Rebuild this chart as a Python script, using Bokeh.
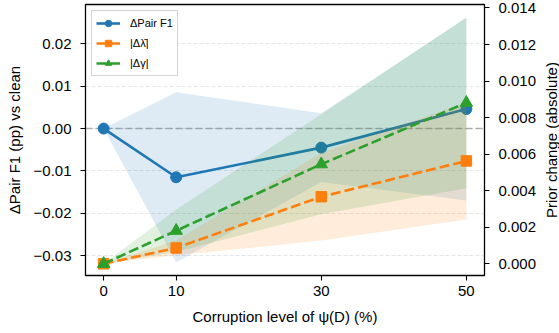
from bokeh.plotting import figure
from bokeh.layouts import row
from bokeh.models import (Range1d, LinearAxis, FixedTicker, CustomJSTickFormatter,
                          Span, ColumnDataSource, Title)
from bokeh.embed import file_html
from bokeh.resources import INLINE

# ---- data ----
corruption = [0, 10, 30, 50]
pair_f1 = [0.0, -0.0115, -0.0045, 0.0046]
pair_f1_std = [0.0, 0.0201, 0.0081, 0.0216]
lam = [0.0, 0.00087, 0.00367, 0.00563]
lam_std = [0.0, 0.0004, 0.0024, 0.0032]
gam = [0.0, 0.00181, 0.00545, 0.00881]
gam_std = [0.0, 0.00116, 0.00274, 0.00467]

left_ticks = [-0.03, -0.02, -0.01, 0.0, 0.01, 0.02]
right_ticks = [0.0, 0.002, 0.004, 0.006, 0.008, 0.010, 0.012, 0.014]

X_LO, X_HI = -2.5, 52.5
L_LO, L_HI = -0.0347, 0.0293
R_LO, R_HI = -0.00064, 0.01419

BLUE, ORANGE, GREEN = "#1f77b4", "#ff7f0e", "#2ca02c"
FONT = "Liberation Sans"

src = ColumnDataSource(dict(
    x=corruption,
    f1=pair_f1,
    f1_lo=[m - s for m, s in zip(pair_f1, pair_f1_std)],
    f1_hi=[m + s for m, s in zip(pair_f1, pair_f1_std)],
    lam=lam,
    lam_lo=[m - s for m, s in zip(lam, lam_std)],
    lam_hi=[m + s for m, s in zip(lam, lam_std)],
    gam=gam,
    gam_lo=[m - s for m, s in zip(gam, gam_std)],
    gam_hi=[m + s for m, s in zip(gam, gam_std)],
))

p = figure(width=541, height=333, output_backend="svg", toolbar_location=None,
           x_range=Range1d(X_LO, X_HI), y_range=Range1d(L_LO, L_HI),
           min_border_left=85, min_border_right=57, min_border_top=4,
           min_border_bottom=58)
p.extra_y_ranges = {"prior": Range1d(R_LO, R_HI)}

p.outline_line_color = "black"
p.outline_line_width = 1.3
p.xgrid.visible = False
p.ygrid.ticker = FixedTicker(ticks=left_ticks)
p.ygrid.grid_line_color = "#b0b0b0"
p.ygrid.grid_line_alpha = 0.4
p.ygrid.grid_line_dash = "4 2"
p.ygrid.grid_line_width = 0.8

# ---- left-axis series ----
p.varea(x="x", y1="f1_lo", y2="f1_hi", source=src, fill_color=BLUE, fill_alpha=0.15)
p.add_layout(Span(location=0, dimension="width", line_color="gray", line_alpha=0.6,
                  line_dash="7 3", line_width=1.4, level="underlay"))
p.line(x="x", y="f1", source=src, line_color=BLUE, line_width=2.6, legend_label="ΔPair F1")
p.scatter(x="x", y="f1", source=src, marker="circle", size=11, fill_color=BLUE,
          line_color=BLUE, legend_label="ΔPair F1")

# ---- right-axis series ----
p.varea(x="x", y1="lam_lo", y2="lam_hi", source=src, fill_color=ORANGE, fill_alpha=0.15,
        y_range_name="prior")
p.varea(x="x", y1="gam_lo", y2="gam_hi", source=src, fill_color=GREEN, fill_alpha=0.15,
        y_range_name="prior")
p.line(x="x", y="lam", source=src, line_color=ORANGE, line_width=2.6, line_dash="10 4",
       y_range_name="prior", legend_label="|Δλ̄|")
p.scatter(x="x", y="lam", source=src, marker="square", size=10.5, fill_color=ORANGE,
          line_color=ORANGE, y_range_name="prior", legend_label="|Δλ̄|")
p.line(x="x", y="gam", source=src, line_color=GREEN, line_width=2.6, line_dash="10 4",
       y_range_name="prior", legend_label="|Δγ|")
p.scatter(x="x", y="gam", source=src, marker="triangle", size=12.5, fill_color=GREEN,
          line_color=GREEN, y_range_name="prior", legend_label="|Δγ|")

# ---- axes ----
right = LinearAxis(y_range_name="prior")
p.add_layout(right, "right")

def style_axis(ax, standoff, label_standoff):
    ax.axis_line_color = None
    ax.major_tick_line_color = "black"
    ax.major_tick_line_width = 1.1
    ax.major_tick_out = 5
    ax.major_tick_in = 0
    ax.minor_tick_line_color = None
    ax.major_label_text_font = FONT
    ax.major_label_text_font_size = "15px"
    ax.major_label_text_color = "black"
    ax.major_label_standoff = standoff
    ax.axis_label_text_font = FONT
    ax.axis_label_text_font_size = "15px"
    ax.axis_label_text_font_style = "normal"
    ax.axis_label_text_color = "black"
    ax.axis_label_standoff = label_standoff

xa = p.xaxis[0]
style_axis(xa, 5, 9)
xa.ticker = FixedTicker(ticks=corruption)
xa.axis_label = "Corruption level of ψ(D) (%)"

la = p.yaxis[0]
style_axis(la, 9, 8)
la.ticker = FixedTicker(ticks=left_ticks)
la.formatter = CustomJSTickFormatter(code="return tick.toFixed(2).replace('-', '\u2212');")
la.axis_label = "ΔPair F1 (pp) vs clean"

style_axis(right, 9, 6)
right.ticker = FixedTicker(ticks=right_ticks)
right.formatter = CustomJSTickFormatter(code="return tick.toFixed(3).replace('-', '\u2212');")

# ---- legend ----
lg = p.legend[0]
lg.location = "top_left"
lg.margin = 6
lg.padding = 4
lg.spacing = 4
lg.glyph_width = 24
lg.glyph_height = 16
lg.label_height = 16
lg.label_standoff = 10
lg.label_text_font = FONT
lg.label_text_font_size = "11px"
lg.label_text_color = "black"
lg.border_line_color = "#aaaaaa"
lg.border_line_width = 1.2
lg.background_fill_alpha = 0.9

# ---- narrow strip carrying the right-axis title (reads bottom-to-top) ----
p2 = figure(width=18, height=333, output_backend="svg", toolbar_location=None,
            x_axis_location=None, y_axis_location=None,
            min_border_left=0, min_border_right=0, min_border_top=4,
            min_border_bottom=58)
p2.outline_line_color = None
p2.grid.visible = False
p2.add_layout(Title(text="Prior change (absolute)", align="center", text_font=FONT,
                    text_font_size="15px", text_font_style="normal", text_color="black",
                    standoff=0, offset=0), "left")

layout = row(p, p2, spacing=0)

open("out.html", "w").write(file_html(layout, INLINE))
